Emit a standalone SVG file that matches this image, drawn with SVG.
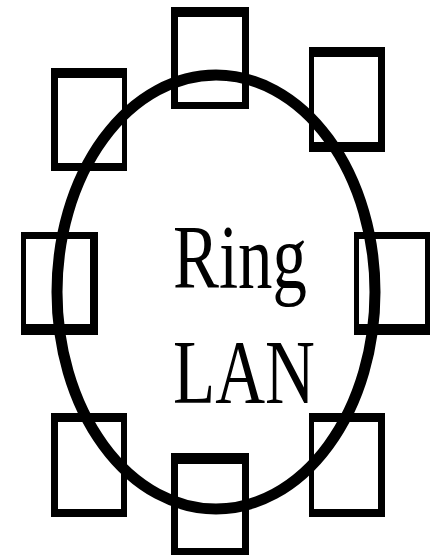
<svg xmlns="http://www.w3.org/2000/svg" width="438" height="555" viewBox="0 0 438 555">
<style>
.box{fill:#000;fill-rule:evenodd;stroke:none}
.ring{fill:none;stroke:#000;stroke-width:11}
.lbl{font-family:"Liberation Serif","Times New Roman",serif;font-size:91px;fill:#000}
</style>
<rect width="438" height="555" fill="#fff"/>
<g id="connectors">
<ellipse class="ring" cx="216" cy="292" rx="159" ry="217"/>
</g>
<g id="node-top"><path class="box" d="M171 7H249V109H171Z M178 17V102H242V17Z"/></g>
<g id="node-top-left"><path class="box" d="M51 68H127V171H51Z M58 78V163H122V78Z"/></g>
<g id="node-top-right"><path class="box" d="M309 47H385V152H309Z M314 57V142H378V57Z"/></g>
<g id="node-mid-left"><path class="box" d="M21 232H98V335H21Z M26 239V324H90V239Z"/></g>
<g id="node-mid-right"><path class="box" d="M354 232H430V335H354Z M359 239V324H425V239Z"/></g>
<g id="node-bottom-left"><path class="box" d="M51 413H127V517H51Z M58 422V509H121V422Z"/></g>
<g id="node-bottom"><path class="box" d="M171 453H249V558H171Z M178 464V548H242V464Z"/></g>
<g id="node-bottom-right"><path class="box" d="M309 413H385V517H309Z M314 422V509H378V422Z"/></g>
<g id="label">
<text class="lbl" x="173" y="288" textLength="134" lengthAdjust="spacingAndGlyphs">Ring</text>
<text class="lbl" x="173" y="403" textLength="142" lengthAdjust="spacingAndGlyphs">LAN</text>
</g>
</svg>
